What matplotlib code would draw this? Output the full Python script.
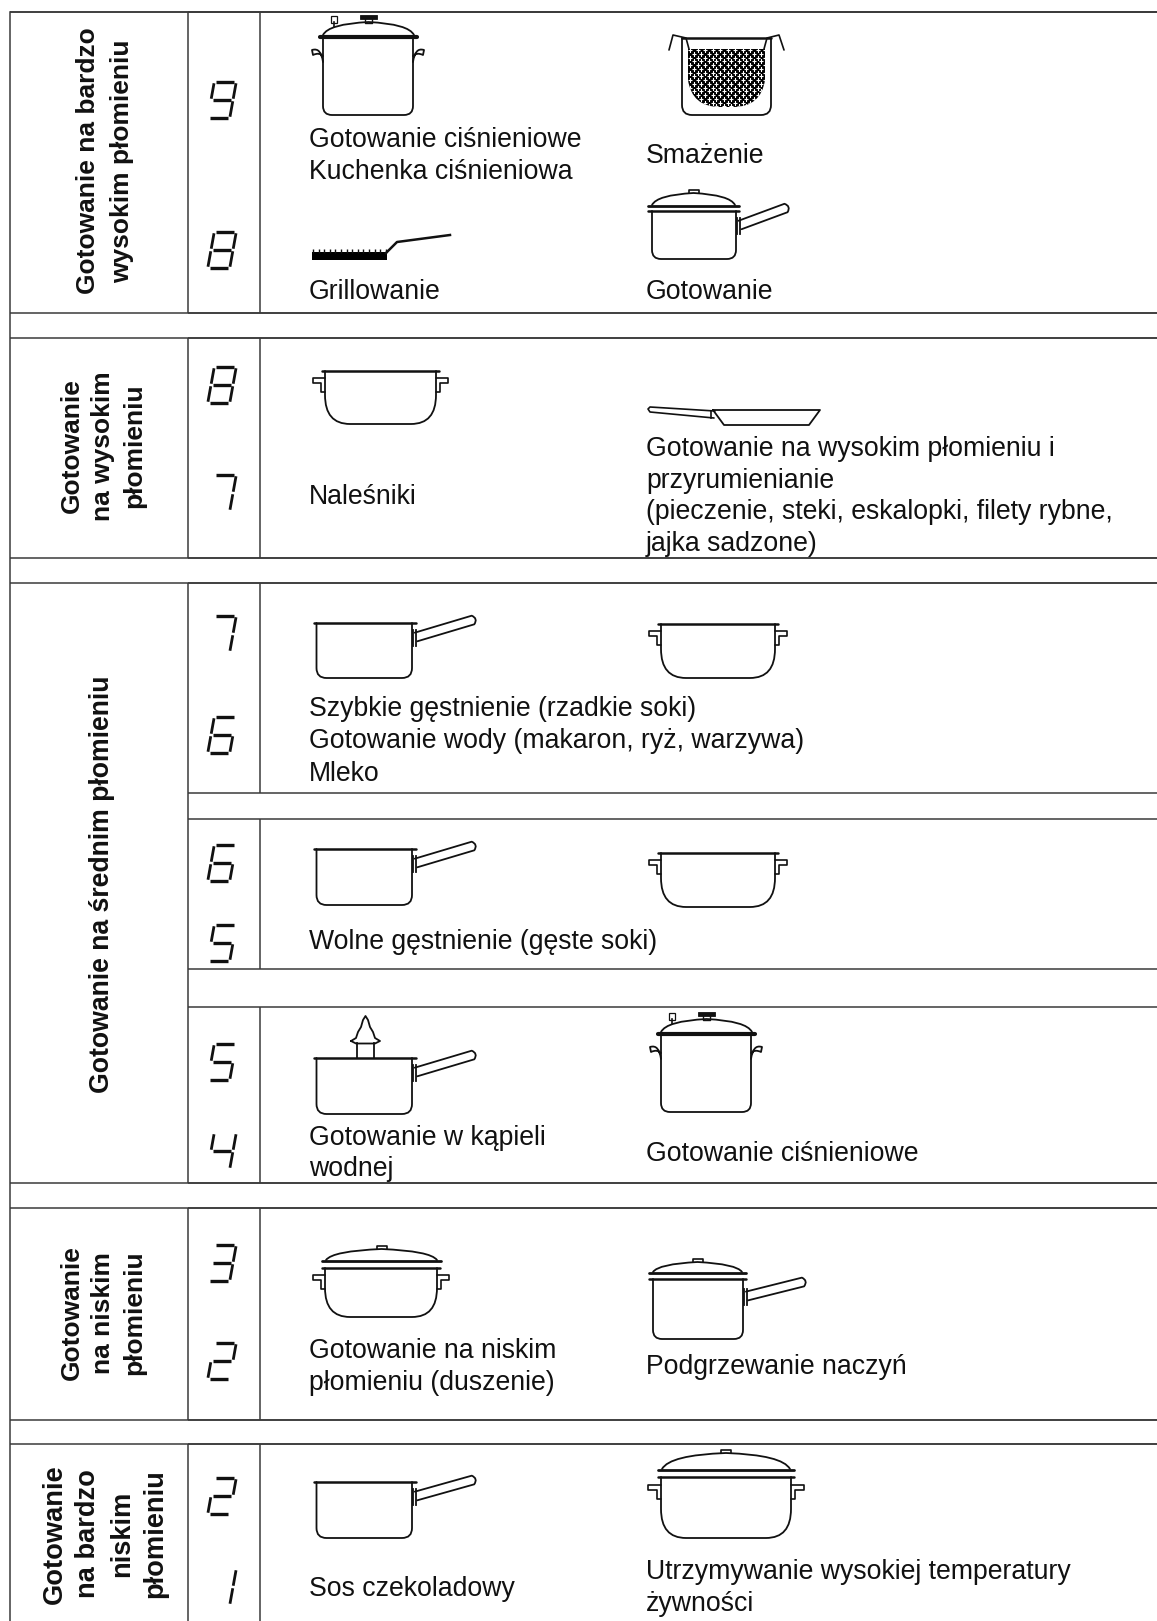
import matplotlib
matplotlib.use('Agg')
import matplotlib.pyplot as plt
from matplotlib.path import Path
from matplotlib.patches import PathPatch
import numpy as np

plt.rcParams['font.family'] = ['Liberation Sans', 'DejaVu Sans']

# table text
group_titles = ['Gotowanie na bardzo\nwysokim płomieniu',
                'Gotowanie\nna wysokim\npłomieniu',
                'Gotowanie na średnim płomieniu',
                'Gotowanie\nna niskim\npłomieniu',
                'Gotowanie\nna bardzo\nniskim\npłomieniu']
levels = ['9', '8', '8', '7', '7', '6', '6', '5', '5', '4', '3', '2', '2', '1']
captions = ['Gotowanie ciśnieniowe', 'Kuchenka ciśnieniowa', 'Grillowanie', 'Smażenie', 'Gotowanie',
            'Naleśniki', 'Gotowanie na wysokim płomieniu i', 'przyrumienianie',
            '(pieczenie, steki, eskalopki, filety rybne,', 'jajka sadzone)',
            'Szybkie gęstnienie (rzadkie soki)', 'Gotowanie wody (makaron, ryż, warzywa)', 'Mleko',
            'Wolne gęstnienie (gęste soki)',
            'Gotowanie w kąpieli', 'wodnej', 'Gotowanie ciśnieniowe',
            'Gotowanie na niskim', 'płomieniu (duszenie)', 'Podgrzewanie naczyń',
            'Sos czekoladowy', 'Utrzymywanie wysokiej temperatury', 'żywności']

# layout in pixels of the picture
group_rows = [(12, 313), (338, 558), (583, 1183), (1208, 1420), (1444, 1621)]
sub_rows = [(12, 313), (338, 558), (583, 793), (819, 969), (1007, 1183), (1208, 1420), (1444, 1621)]
title_pos = [(105, 161, 1.52, 19), (103, 446, 1.37, 19), (102, 884, 1.05, 19.2), (103, 1313, 1.37, 19),
             (105, 1534, 1.37, 19.6)]
level_y = [100, 250, 385, 493, 634, 735, 863, 943, 1062, 1151, 1263, 1361, 1496, 1587]
caption_x = [309, 309, 309, 646, 646, 309, 646, 646, 646, 646, 309, 309, 309, 309, 309, 309, 646, 309, 309, 646,
             309, 646, 646]
caption_y = [147, 179, 299, 163, 299, 504, 456, 488, 519, 551, 716, 748, 781, 949, 1145, 1176, 1161, 1358, 1390,
             1374, 1596, 1579, 1611]

LEFT, COL1, COL2, RIGHT = 10, 187.5, 260, 1157
INK = '#111111'
GRID = '#3a3a3a'

SEGMENTS = {'A': ((0, 1), (1, 1)), 'B': ((1, 1), (1, .5)), 'C': ((1, .5), (1, 0)), 'D': ((0, 0), (1, 0)),
            'E': ((0, .5), (0, 0)), 'F': ((0, 1), (0, .5)), 'G': ((0, .5), (1, .5))}
DIGITS = {'1': 'BC', '2': 'ABGED', '3': 'ABGCD', '4': 'FGBC', '5': 'AFGCD', '6': 'AFGECD', '7': 'ABC',
          '8': 'ABCDEFG', '9': 'ABCDFG'}

fig = plt.figure(figsize=(11.57, 16.21), dpi=100)
ax = fig.add_axes([0, 0, 1, 1])
ax.set_xlim(0, 1157)
ax.set_ylim(1621, 0)
ax.axis('off')


def hline(y, x0=LEFT, x1=RIGHT):
    ax.plot([x0, x1], [y, y], color=GRID, lw=1.1, solid_capstyle='butt')


def vline(x, y0, y1):
    ax.plot([x, x], [y0, y1], color=GRID, lw=1.1, solid_capstyle='butt')


def outline(verts, codes=None, lw=1.3, fc='none'):
    if codes is None:
        codes = [Path.MOVETO] + [Path.LINETO] * (len(verts) - 1)
    p = PathPatch(Path(verts, codes), fc=fc, ec=INK, lw=lw, capstyle='round', joinstyle='round')
    ax.add_patch(p)
    return p


def body(x0, x1, y0, y1, rx, ry, lw=1.3):
    # straight walls with rounded bottom corners
    M, L, C = Path.MOVETO, Path.LINETO, Path.CURVE3
    verts = [(x0, y0), (x0, y1 - ry), (x0, y1), (x0 + rx, y1), (x1 - rx, y1), (x1, y1), (x1, y1 - ry), (x1, y0)]
    outline(verts, [M, L, C, C, L, C, C, L], lw=lw)


def rim(x0, x1, y, lw=1.8):
    ax.plot([x0, x1], [y, y], color=INK, lw=lw, solid_capstyle='round')


def long_handle(xb, yb, xt, yt, w=9):
    d = np.array([xt - xb, yt - yb], dtype=float)
    d = d / np.hypot(*d)
    n = np.array([-d[1], d[0]]) * w / 2
    b, t = np.array([xb, yb]), np.array([xt, yt])
    M, L, C = Path.MOVETO, Path.LINETO, Path.CURVE3
    outline([b - n, t - n, t + d * w * .6, t + n, b + n], [M, L, C, C, L])
    # small bracket on the wall
    ax.plot([xb - 3, xb - 3], [yb - 7, yb + 9], color=INK, lw=1.3)
    ax.plot([xb, xb], [yb - 7, yb + 9], color=INK, lw=1.3)


def lugs(x0, x1, y, out=12, drop=14):
    outline([(x0, y), (x0 - out, y), (x0 - out, y + 5), (x0 - 4, y + 5), (x0 - 4, y + drop), (x0, y + drop)], lw=1.2)
    outline([(x1, y), (x1 + out, y), (x1 + out, y + 5), (x1 + 4, y + 5), (x1 + 4, y + drop), (x1, y + drop)], lw=1.2)


def dome(x0, x1, y_base, y_top):
    M, C = Path.MOVETO, Path.CURVE3
    w = x1 - x0
    outline([(x0, y_base), (x0 + w * .06, y_top + 2), (x0 + w * .5, y_top), (x0 + w * .94, y_top + 2), (x1, y_base)],
            [M, C, C, C, C])


def saucepan(x0, x1, y0, y1, tip, rim_over=3):
    body(x0, x1, y0, y1, 10, 10)
    rim(x0 - rim_over, x1 + rim_over + 1, y0)
    long_handle(x1 + 4, y0 + 14, tip[0], tip[1])


def round_pot(x0, x1, y0, y1, lug_y, out=12):
    body(x0, x1, y0, y1, 25, 29)
    rim(x0 - 3, x1 + 3, y0)
    lugs(x0, x1, lug_y, out=out)


def lid(x0, x1, y_rim, y_top):
    rim(x0, x1, y_rim, lw=2)
    dome(x0 + 4, x1 - 4, y_rim - 1, y_top + 3)
    xm = (x0 + x1) / 2
    outline([(xm - 5, y_top + 3), (xm - 5, y_top), (xm + 5, y_top), (xm + 5, y_top + 3)], lw=1.2)


def stockpot(dx, dy):
    body(dx + 323, dx + 413, dy + 37, dy + 115, 9, 9)
    rim(dx + 320, dx + 417, dy + 37, lw=3)
    dome(dx + 323, dx + 414, dy + 35, dy + 22)
    # pressure knob and valve
    ax.add_patch(plt.Rectangle((dx + 360, dy + 15), 17, 3.5, fc=INK, ec=INK, lw=.6))
    outline([(dx + 365, dy + 18), (dx + 365, dy + 23), (dx + 372, dy + 23), (dx + 372, dy + 18)], lw=1)
    ax.add_patch(plt.Rectangle((dx + 331, dy + 16), 6, 6.5, fc='white', ec=INK, lw=.9))
    ax.plot([dx + 334, dx + 334], [dy + 22, dy + 27], color=INK, lw=1.2)
    # side handles
    M, L, C = Path.MOVETO, Path.LINETO, Path.CURVE3
    outline([(dx + 323, dy + 62), (dx + 321, dy + 47), (dx + 312, dy + 50), (dx + 313, dy + 55),
             (dx + 319, dy + 52), (dx + 323, dy + 56)], [M, C, C, L, C, C], lw=1.3)
    outline([(dx + 413, dy + 62), (dx + 415, dy + 47), (dx + 424, dy + 50), (dx + 423, dy + 55),
             (dx + 417, dy + 52), (dx + 413, dy + 56)], [M, C, C, L, C, C], lw=1.3)


def fryer():
    body(682, 771, 38, 115, 10, 10)
    rim(682, 771, 38)
    # basket with holes
    M, L, C = Path.MOVETO, Path.LINETO, Path.CURVE3
    u = Path([(688, 49), (688, 80), (692, 107), (720, 107), (733, 107), (761, 107), (765, 80), (765, 49), (688, 49)],
             [M, L, C, C, L, C, C, L, L])
    patch = PathPatch(u, fc='black', ec='none')
    ax.add_patch(patch)
    xs, ys = np.meshgrid(np.arange(690, 768, 7.5), np.arange(50, 110, 7.5))
    xs2, ys2 = xs + 3.75, ys + 3.75
    dots = ax.scatter(np.r_[xs.ravel(), xs2.ravel()], np.r_[ys.ravel(), ys2.ravel()], marker='+', s=9,
                      color='white', linewidths=.8)
    dots.set_clip_path(patch)
    # basket hangers
    outline([(669, 50), (673, 35), (686, 38), (689, 49)], lw=1.2)
    outline([(784, 50), (779, 35), (767, 38), (764, 49)], lw=1.2)


def grill():
    ax.add_patch(plt.Rectangle((312, 252), 75, 8, fc='black', ec='none'))
    ax.plot(np.arange(313, 386, 5.6), [250.5] * 14, ls='none', marker='|', ms=3.5, mew=1, color=INK)
    ax.plot([386, 397, 450], [253, 242, 235], color=INK, lw=1.8)


def frying_pan():
    outline([(713, 410), (820, 410), (809, 425), (724, 425), (713, 410)], lw=1.3)
    outline([(715, 411), (650, 407), (648, 409), (650, 412), (714, 418)], lw=1.2)
    ax.plot([711, 711], [411, 418], color=INK, lw=1.2)


def insert():
    ax.plot([357, 357], [1043, 1058], color=INK, lw=1.3)
    ax.plot([374, 374], [1043, 1058], color=INK, lw=1.3)
    outline([(351, 1041), (356, 1038), (358, 1032), (361, 1027), (363, 1020), (365.5, 1016), (368, 1020),
             (370, 1027), (373, 1032), (375, 1038), (380, 1041), (375, 1043.5), (356, 1043.5), (351, 1041)])


def draw_digit(d, cy, cx=222, h=36, w=22, slant=6.5):
    for name in DIGITS[d]:
        (u0, v0), (u1, v1) = SEGMENTS[name]
        pts = []
        for u, v, t in ((u0, v0, 1), (u1, v1, -1)):
            if u0 == u1:
                # vertical segments nearly touch
                v = v - t * .035 if v0 > v1 else v + t * .035
            else:
                u = u + t * .1
            pts.append((cx + (u - .5) * w + (v - .5) * slant, cy - (v - .5) * h))
        lw = 2.4 if u0 != u1 else 2.0
        ax.plot([pts[0][0], pts[1][0]], [pts[0][1], pts[1][1]], color=INK, lw=lw, solid_capstyle='butt')


# grid
ax.plot([LEFT, LEFT], [12, 1621], color=GRID, lw=1.1)
hline(12)
for y0, y1 in group_rows:
    hline(y0)
    if y1 < 1621:
        hline(y1)
    vline(COL1, y0, y1)
for y0, y1 in sub_rows:
    hline(y0, COL1)
    if y1 < 1621:
        hline(y1, COL1)
    vline(COL2, y0, y1)

# row titles, digits, captions
for title, (x, y, sp, size) in zip(group_titles, title_pos):
    ax.text(x, y, title, rotation=90, ha='center', va='center', ma='center', fontsize=size, fontweight='bold',
            linespacing=sp, color=INK)
for d, y in zip(levels, level_y):
    draw_digit(d, y)
for s, x, y in zip(captions, caption_x, caption_y):
    ax.text(x, y, s, ha='left', va='baseline', fontsize=19.2, color=INK)

# cookware
stockpot(0, 0)
fryer()
grill()
body(652, 736, 211, 259, 9, 9)
rim(648, 739, 211)
lid(648, 739, 206, 190)
long_handle(740, 225, 786, 208)

round_pot(325, 436, 371, 424, 378)
frying_pan()

saucepan(316.5, 412, 623, 678, (473, 620))
round_pot(661, 775, 624, 678, 631)
saucepan(316.5, 412, 849, 905, (473, 846))
round_pot(661, 775, 853, 907, 860)
saucepan(316.5, 412, 1058, 1114, (473, 1055))
insert()
stockpot(338, 997)

round_pot(325, 437, 1268, 1317, 1275)
lid(322, 441, 1261, 1246)
body(653, 743, 1279, 1339, 9, 9)
rim(649, 746, 1279)
lid(649, 746, 1273, 1259)
long_handle(747, 1296, 803, 1282)

saucepan(316.5, 412, 1482, 1538, (473, 1480))
round_pot(661, 791, 1477, 1538, 1485, out=13)
lid(658, 794, 1470, 1450)

plt.savefig('out.png', dpi=100)
